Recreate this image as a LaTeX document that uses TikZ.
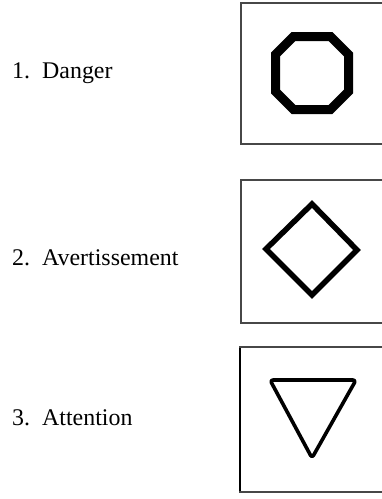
\documentclass[tikz,border=0pt]{standalone}
\usepackage{fontspec}
\setmainfont{Liberation Serif}
\begin{document}
\begin{tikzpicture}[x=1pt,y=-1pt,
  lbl/.style={anchor=base west,inner sep=0pt,font=\fontsize{23.9}{28}\selectfont},
  frame/.style={draw=black!72,line width=2pt},
  sign/.style={draw=black,line join=miter}]
\useasboundingbox (0,0) rectangle (381,499);
% frames (right side runs off the page)
\draw[frame] (386,3) -- (241,3) -- (241,144) -- (386,144);
\draw[frame] (386,180) -- (241,180) -- (241,323) -- (386,323);
\draw[frame] (386,347) -- (240,347) -- (240,492) -- (386,492);
\draw[black,line width=2.6pt] (240,348) -- (240,491);
% labels
\node[lbl] (n1) at (12,78) {1.};
\node[lbl] (t1) at (42,78) {Danger};
\node[lbl] (n2) at (12,265) {2.};
\node[lbl] (t2) at (42,265) {Avertissement};
\node[lbl] (n3) at (12,425) {3.};
\node[lbl] (t3) at (42,425) {Attention};
% octagon (danger)
\draw[sign,line width=9pt] (293.5,36.5) -- (330.5,36.5) -- (348.5,54.5) -- (348.5,91.5)
  -- (330.5,109.5) -- (293.5,109.5) -- (275.5,91.5) -- (275.5,54.5) -- cycle;
% diamond (avertissement)
\draw[sign,line width=5.5pt] (312,204) -- (357,250) -- (312,295) -- (266,249) -- cycle;
% triangle (attention)
\draw[sign,line width=3.6pt,line join=round,rounded corners=3pt]
  (270,380) -- (356,380) -- (312,458) -- cycle;
\end{tikzpicture}
\end{document}
